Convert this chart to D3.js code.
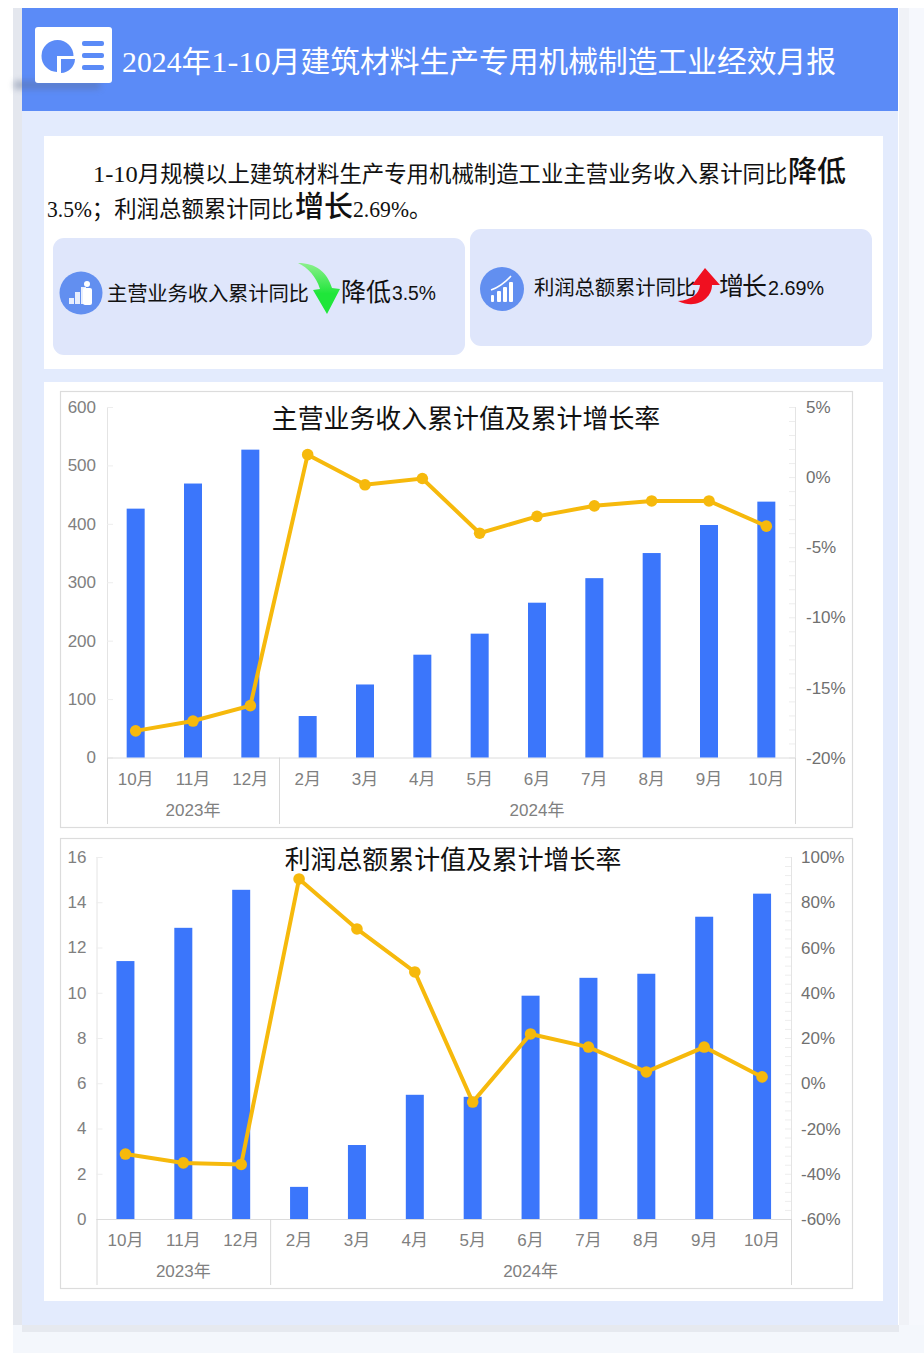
<!DOCTYPE html>
<html><head><meta charset="utf-8">
<script src="https://cdn.jsdelivr.net/npm/d3@7"></script>
<style>
html,body{margin:0;padding:0;background:#fff;overflow:hidden}
svg{display:block}
text{white-space:pre}
</style></head><body>
<svg id="c" width="924" height="1360" viewBox="0 0 924 1360"></svg>
<script>
const months = ["10月","11月","12月","2月","3月","4月","5月","6月","7月","8月","9月","10月"];
const years = [{label:"2023年",n:3},{label:"2024年",n:9}];
const revenueTitle = "主营业务收入累计值及累计增长率";
const profitTitle = "利润总额累计值及累计增长率";
const revenueValues = [426,469,527,71,125,176,212,265,307,350,398,438];
const revenueGrowth = [-18.1,-17.4,-16.3,1.6,-0.55,-0.1,-4.0,-2.8,-2.05,-1.7,-1.7,-3.5];
const revenueLeftTicks = [0,100,200,300,400,500,600];
const revenueRightTicks = [-20,-15,-10,-5,0,5];
const profitValues = [11.4,12.87,14.55,1.42,3.27,5.49,5.4,9.87,10.66,10.84,13.36,14.38];
const profitGrowth = [-31.3,-35.2,-35.9,90.3,68.2,49.2,-8.3,21.8,16,5,16,2.8];
const profitLeftTicks = [0,2,4,6,8,10,12,14,16];
const profitRightTicks = [-60,-40,-20,0,20,40,60,80,100];

const SANS = '"Liberation Sans","Noto Sans CJK SC",sans-serif';
const SERIF = '"Liberation Serif","Noto Sans CJK SC",serif';
const svg = d3.select("#c");
const defs = svg.append("defs");
const blur = defs.append("filter").attr("id","blur").attr("x","-20%").attr("y","-100%").attr("width","140%").attr("height","300%");
blur.append("feGaussianBlur").attr("stdDeviation",3);
const gg = defs.append("linearGradient").attr("id","gArrow").attr("x1",0).attr("y1",0).attr("x2",0).attr("y2",1);
gg.append("stop").attr("offset","0%").attr("stop-color","#8df08d");
gg.append("stop").attr("offset","60%").attr("stop-color","#1fe63a");

function rect(x,y,w,h,fill,r){return svg.append("rect").attr("x",x).attr("y",y).attr("width",w).attr("height",h).attr("fill",fill).attr("rx",r||0);}
function txt(s,x,y,size,opt){opt=opt||{};
  const t=svg.append("text").attr("x",x).attr("y",y).attr("font-size",size).attr("font-family",opt.font||SERIF).attr("fill",opt.fill||"#111").attr("text-anchor",opt.anchor||"start").text(s);
  if(opt.len) t.attr("textLength",opt.len).attr("lengthAdjust","spacing");
  if(opt.weight) t.attr("font-weight",opt.weight);
  return t;}
// Latin runs are fitted to half-width cells, CJK runs to full-width cells
function grid(s,x,y,size,opt){opt=opt||{};
  const adv=opt.adv||size/2, t=txt("",x,y,size,opt); let p=x;
  for(const run of s.match(/[\x00-\x7f]+|[^\x00-\x7f]+/g)){
    const latin=run.charCodeAt(0)<128, n=Array.from(run).length, w=n*(latin?adv:size);
    t.append("tspan").attr("x",p.toFixed(2)).attr("textLength",w.toFixed(2)).attr("lengthAdjust",latin?"spacingAndGlyphs":"spacing").text(run);
    p+=w;
  }
  return t;}

// page frame
rect(13,8,10,1317,"#e4e7ee");
rect(899,8,10,1317,"#f0f2f7");
rect(909,8,15,1345,"#f6f8fd");
rect(13,1325,911,28,"#f4f7fc");
rect(22,1325,877,7,"#e6e9ef");
rect(22,8,876,1317,"#e3ebfd");
rect(22,8,876,103,"#5b8bf7");
rect(14,81,86,8,"#5c6a8c").attr("opacity",.42).attr("filter","url(#blur)");

// header logo
rect(35,27,77,56,"#fff",3);
svg.append("path").attr("d","M57 56 L73.5 56 A16 16 0 1 0 57 72 Z").attr("fill","#5b8bf7");
svg.append("path").attr("d","M61 59 L75 59 A14.5 14.5 0 0 1 61 73 Z").attr("fill","#5b8bf7");
[41,53,65].forEach(y=>rect(82,y,22,5,"#5b8bf7",2));
grid("2024年1-10月建筑材料生产专用机械制造工业经效月报",122,72,29.75,{fill:"#fff"});

// text panel
rect(44,136,839,233,"#fff");
grid("1-10月规模以上建筑材料生产专用机械制造工业主营业务收入累计同比",93,182,22.4);
txt("降低",788,182,29,{len:58,weight:500});
grid("3.5%；利润总额累计同比",47,217,22.4);
txt("增长",295,217,29,{len:58,weight:500});
grid("2.69%。",353,217,22.4);

// callouts
rect(53,238,412,117,"#dfe6fb",11);
rect(470,229,402,117,"#dfe6fb",11);
svg.append("circle").attr("cx",81).attr("cy",293).attr("r",21.5).attr("fill","#628ff0");
[[69,298,5,6],[75,292,5,12],[81,287,5,17]].forEach(d=>rect(d[0],d[1],d[2],d[3],"#fff").attr("opacity",.85));
svg.append("circle").attr("cx",87).attr("cy",284).attr("r",3).attr("fill","#fff");
rect(83,288,9,17,"#fff",2);
txt("主营业务收入累计同比",107,301,20.4,{len:202,font:SANS});
svg.append("path").attr("d","M298 263 C316 263 327 272 332 288 L340 289 L327 314 L313 290 L320 289 C316 276 308 268 298 263 Z").attr("fill","url(#gArrow)");
txt("降低",341,301,25,{len:50});
grid("3.5%",392,300,20,{adv:11,font:SANS});
svg.append("circle").attr("cx",502).attr("cy",289).attr("r",22).attr("fill","#628ff0");
[[491,295,3,7],[497,291,4,11],[503,287,4,15],[509,282,4,20]].forEach(d=>rect(d[0],d[1],d[2],d[3],"#fff",1));
svg.append("path").attr("d","M491 290 Q502 286 511 276").attr("fill","none").attr("stroke","#fff").attr("stroke-width",1.5);
txt("利润总额累计同比",534,295,20.4,{len:162,font:SANS});
svg.append("path").attr("d","M678 301 C692 300 699 294 700 285 L692 285 L705 268 L720 285 L712 285 C712 298 697 310 678 301 Z").attr("fill","#f01020");
txt("增长",719,295,25,{len:48});
grid("2.69%",768,295,20,{adv:11.2,font:SANS});

// chart panel
rect(44,382,839,919,"#fff");

function drawChart(c){
  const g=svg.append("g");
  g.append("rect").attr("x",c.fx+.5).attr("y",c.fy+.5).attr("width",c.fw).attr("height",c.fh).attr("fill","#fff").attr("stroke","#dcdcdc").attr("stroke-width",1.2);
  const x=d3.scaleBand().domain(d3.range(months.length)).range([c.left,c.right]).paddingInner(c.pad).paddingOuter(c.pad/2);
  const yL=d3.scaleLinear().domain(d3.extent(c.leftTicks)).range([c.y0,c.y1]);
  const yR=d3.scaleLinear().domain(d3.extent(c.rightTicks)).range([c.y0,c.y1]);
  const cx=i=>x(i)+x.bandwidth()/2;

  // left axis
  const aL=g.append("g").attr("transform",`translate(${c.left},0)`).call(d3.axisLeft(yL).tickValues(c.leftTicks).tickSize(-6).tickPadding(15));
  // right axis with minor ticks
  const aRm=g.append("g").attr("transform",`translate(${c.right},0)`).call(d3.axisRight(yR).tickValues(d3.range(c.rightTicks[0],c.rightTicks[c.rightTicks.length-1]+.01,c.minor)).tickSize(-6).tickFormat(""));
  const aR=g.append("g").attr("transform",`translate(${c.right},0)`).call(d3.axisRight(yR).tickValues(c.rightTicks).tickSize(0).tickPadding(c.rPad).tickFormat(d=>d+"%"));
  [aL,aR,aRm].forEach(a=>{
    a.selectAll("path.domain").attr("stroke","#e4e4e4").attr("d",`M0.5,${c.y0}V${c.y1}`);
    a.selectAll("line").attr("stroke","#ededed");
    a.selectAll("text").attr("font-size",c.tickSize).attr("font-family",SANS).attr("fill","#808080");
  });
  aR.selectAll("text").attr("fill","#707070").attr("dy","0.33em");
  aL.selectAll("text").attr("x",c.leftLabelX).attr("text-anchor","end");

  // category axis
  g.append("line").attr("x1",c.left).attr("x2",c.right).attr("y1",c.y0+.5).attr("y2",c.y0+.5).attr("stroke","#dcdcdc");
  g.selectAll("text.m").data(months).join("text").attr("class","m").attr("x",(d,i)=>cx(i)).attr("y",c.y0+27).attr("text-anchor","middle").attr("font-size",c.tickSize).attr("font-family",SANS).attr("fill","#808080").text(d=>d);
  let start=0;
  const sep=[c.left];
  years.forEach(yr=>{
    const a=x.step()*start+c.left, b=x.step()*(start+yr.n)+c.left;
    sep.push(b);
    g.append("text").attr("x",(a+b)/2).attr("y",c.y0+58).attr("text-anchor","middle").attr("font-size",c.tickSize).attr("font-family",SANS).attr("fill","#808080").text(yr.label);
    start+=yr.n;
  });
  g.selectAll("line.s").data(sep).join("line").attr("class","s").attr("x1",d=>d+.5).attr("x2",d=>d+.5).attr("y1",c.y0).attr("y2",c.sepEnd).attr("stroke","#d8d8d8");

  // bars
  g.selectAll("rect.b").data(c.values).join("rect").attr("class","b").attr("x",(d,i)=>x(i)).attr("width",x.bandwidth()).attr("y",d=>yL(d)).attr("height",d=>c.y0-yL(d)).attr("fill","#3b76fb");
  // line
  const line=d3.line().x((d,i)=>cx(i)).y(d=>yR(d));
  g.append("path").datum(c.growth).attr("d",line).attr("fill","none").attr("stroke","#f6b90c").attr("stroke-width",4);
  g.selectAll("circle.p").data(c.growth).join("circle").attr("class","p").attr("cx",(d,i)=>cx(i)).attr("cy",d=>yR(d)).attr("r",5.8).attr("fill","#f6b90c");
  // title
  g.append("text").attr("x",c.titleX).attr("y",c.titleY).attr("text-anchor","middle").attr("font-size",c.titleSize).attr("font-family",SANS).attr("fill","#111").text(c.title);
}

drawChart({fx:60,fy:391,fw:792,fh:436,left:107,right:795,y0:757.5,y1:407,pad:.686,
  leftTicks:revenueLeftTicks,rightTicks:revenueRightTicks,minor:1,rPad:11,leftLabelX:-11,tickSize:17,
  values:revenueValues,growth:revenueGrowth,sepEnd:824,title:revenueTitle,titleX:466,titleY:428,titleSize:25.9});
drawChart({fx:60,fy:838,fw:792,fh:450,left:96.5,right:791,y0:1219,y1:857,pad:.689,
  leftTicks:profitLeftTicks,rightTicks:profitRightTicks,minor:4,rPad:10,leftLabelX:-10,tickSize:17,
  values:profitValues,growth:profitGrowth,sepEnd:1285,title:profitTitle,titleX:453,titleY:869,titleSize:25.9});
</script>
</body></html>
